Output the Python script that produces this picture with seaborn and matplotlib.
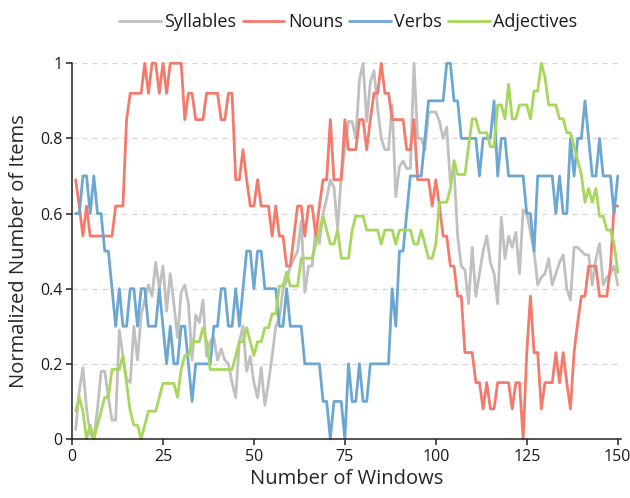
"""
Normalized counts of syllables / nouns / verbs / adjectives over sliding windows.
Saves out.png (630x498).
"""

import numpy as np
import pandas as pd
import matplotlib
matplotlib.use("Agg")
import matplotlib.pyplot as plt
import seaborn as sns

# ── Data (windows 1..150) ─────────────────────────────────────────────────────
windows = list(range(1, 151))

syllables = [
    .025, .127, .19, .08, .015, 0, .08, .18, .18, .11,
    .05, .05, .29, .22, .16, .15, .30, .21, .33, .37,
    .41, .38, .47, .40, .46, .34, .44, .36, .27, .39,
    .41, .36, .21, .33, .31, .37, .22, .26, .27, .21,
    .24, .21, .20, .15, .11, .26, .30, .18, .22, .15,
    .11, .19, .09, .15, .22, .30, .32, .40, .42, .46,
    .48, .50, .58, .39, .46, .46, .56, .52, .60, .64,
    .69, .67, .56, .70, .77, .845, .845, .80, .955, 1,
    .845, .95, .98, .88, .80, .77, .77, .89, .645, .725,
    .74, .72, .72, 1, .80, .80, .77, .87, .87, .87,
    .845, .80, .83, .68, .72, .54, .46, .45, .36, .51,
    .38, .44, .50, .54, .47, .44, .36, .59, .48, .54,
    .51, .55, .44, .61, .60, .55, .50, .41, .43, .44,
    .48, .41, .44, .47, .49, .40, .37, .51, .51, .50,
    .49, .49, .41, .48, .52, .41, .43, .44, .46, .41,
]

nouns = [
    .69, .62, .54, .62, .54, .54, .54, .54, .54, .54,
    .54, .62, .62, .62, .85, .92, .92, .92, .92, 1,
    .92, 1, 1, .92, 1, .92, 1, 1, 1, 1,
    .85, .92, .92, .85, .85, .85, .92, .92, .92, .92,
    .85, .85, .92, .92, .69, .69, .77, .69, .62, .62,
    .69, .62, .62, .62, .54, .62, .54, .54, .46, .46,
    .54, .62, .62, .54, .62, .62, .54, .62, .69, .69,
    .85, .69, .69, .69, .85, .77, .77, .77, .85, .85,
    .77, .85, .92, .92, 1, .92, .92, .85, .85, .85,
    .85, .77, .77, .85, .69, .69, .69, .69, .62, .69,
    .62, .54, .54, .46, .46, .38, .38, .23, .23, .23,
    .15, .15, .08, .15, .08, .08, .15, .15, .15, .15,
    .08, .15, .15, 0, .23, .38, .23, .23, .08, .15,
    .15, .15, .23, .15, .23, .15, .08, .23, .31, .38,
    .38, .46, .46, .46, .38, .38, .38, .46, .62, .62,
]

verbs = [
    .6, .6, .7, .7, .6, .7, .6, .6, .5, .5,
    .4, .3, .4, .3, .3, .4, .4, .3, .4, .4,
    .3, .3, .3, .4, .3, .2, .3, .2, .2, .3,
    .3, .2, .1, .2, .2, .2, .2, .2, .3, .3,
    .4, .4, .3, .3, .4, .3, .4, .5, .5, .4,
    .5, .5, .4, .4, .4, .4, .3, .3, .4, .3,
    .3, .3, .3, .2, .2, .2, .2, .2, .1, .1,
    0, .1, .1, .1, 0, .2, .1, .1, .2, .1,
    .1, .2, .2, .2, .2, .2, .2, .4, .3, .5,
    .5, .6, .7, .7, .7, .7, .8, .9, .9, .9,
    .9, .9, 1, 1, .9, .9, .8, .8, .8, .8,
    .8, .7, .8, .8, .8, .9, .7, .8, .8, .7,
    .7, .7, .7, .7, .6, .6, .5, .7, .7, .7,
    .7, .7, .6, .7, .6, .6, .8, .7, .8, .8,
    .9, .8, .7, .7, .8, .7, .7, .7, .6, .7,
]

adjectives = [
    .074, .111, .074, 0, .037, 0, .037, .074, .111, .111,
    .185, .185, .185, .222, .148, .074, .037, .037, 0, .037,
    .074, .074, .074, .111, .148, .148, .148, .148, .111, .185,
    .222, .222, .259, .259, .259, .296, .259, .185, .185, .185,
    .185, .185, .185, .185, .222, .259, .259, .296, .259, .222,
    .259, .259, .296, .296, .333, .333, .407, .407, .444, .407,
    .407, .407, .481, .481, .481, .481, .519, .556, .593, .556,
    .519, .519, .556, .481, .481, .481, .556, .593, .593, .593,
    .556, .556, .556, .556, .519, .556, .556, .556, .519, .556,
    .556, .556, .556, .519, .519, .556, .519, .481, .481, .519,
    .63, .63, .63, .667, .741, .704, .704, .704, .778, .852,
    .852, .815, .815, .815, .778, .778, .889, .889, .852, .944,
    .852, .852, .889, .889, .889, .852, .926, .926, 1, .963,
    .889, .889, .889, .852, .852, .815, .815, .778, .741, .704,
    .63, .667, .63, .667, .593, .593, .556, .556, .519, .444,
]

series_names = ["Syllables", "Nouns", "Verbs", "Adjectives"]
x_ticks = [0, 25, 50, 75, 100, 125, 150]
y_ticks = [0, 0.2, 0.4, 0.6, 0.8, 1.0]
y_tick_labels = ["0", "0.2", "0.4", "0.6", "0.8", "1"]

# ── Style ──────────────────────────────────────────────────────────────────────
PALETTE = {
    "Syllables": "#C0C0C0",
    "Nouns": "#F47A6C",
    "Verbs": "#6CA7D2",
    "Adjectives": "#A7D75C",
}
TEXT = "#1A1A1A"

sns.set_style("ticks")
plt.rcParams.update({
    "font.family": ["Open Sans", "DejaVu Sans"],
    "axes.edgecolor": "#222222",
    "axes.linewidth": 1.1,
    "xtick.color": "#222222",
    "ytick.color": "#222222",
    "xtick.labelcolor": TEXT,
    "ytick.labelcolor": TEXT,
    "xtick.major.size": 4,
    "ytick.major.size": 4,
    "xtick.major.width": 1.1,
    "ytick.major.width": 1.1,
    "text.color": TEXT,
})

# long-form table for seaborn
df = pd.DataFrame({
    "window": windows * 4,
    "value": syllables + nouns + verbs + adjectives,
    "series": np.repeat(series_names, len(windows)),
})

fig = plt.figure(figsize=(6.3, 4.98), dpi=100)
ax = fig.add_axes([0.1143, 0.1185, 0.872, 0.7545])

for y in y_ticks[1:]:
    ax.axhline(y, color="#D6D6D6", linewidth=0.9, linestyle=(0, (4, 4)), zorder=0)

sns.lineplot(
    data=df, x="window", y="value", hue="series",
    hue_order=series_names, palette=PALETTE,
    linewidth=2.0, ax=ax, legend=False, clip_on=False,
)

ax.set_xlim(0, 151)
ax.set_ylim(0, 1)
ax.set_xticks(x_ticks)
ax.set_yticks(y_ticks)
ax.set_yticklabels(y_tick_labels)
ax.tick_params(axis="both", labelsize=11.5, pad=3)
sns.despine(ax=ax)

ax.set_xlabel("Number of Windows", fontsize=14.5, labelpad=3)
ax.set_ylabel("Normalized Number of Items", fontsize=14.5, labelpad=8)

handles = [plt.Line2D([], [], color=PALETTE[s], linewidth=2.0) for s in series_names]
fig.legend(
    handles, series_names, loc="center", bbox_to_anchor=(0.553, 0.956),
    ncol=4, frameon=False, fontsize=13, handlelength=2.3,
    handletextpad=0.2, columnspacing=0.35, borderaxespad=0,
)

fig.savefig("out.png", dpi=100)
plt.close(fig)
